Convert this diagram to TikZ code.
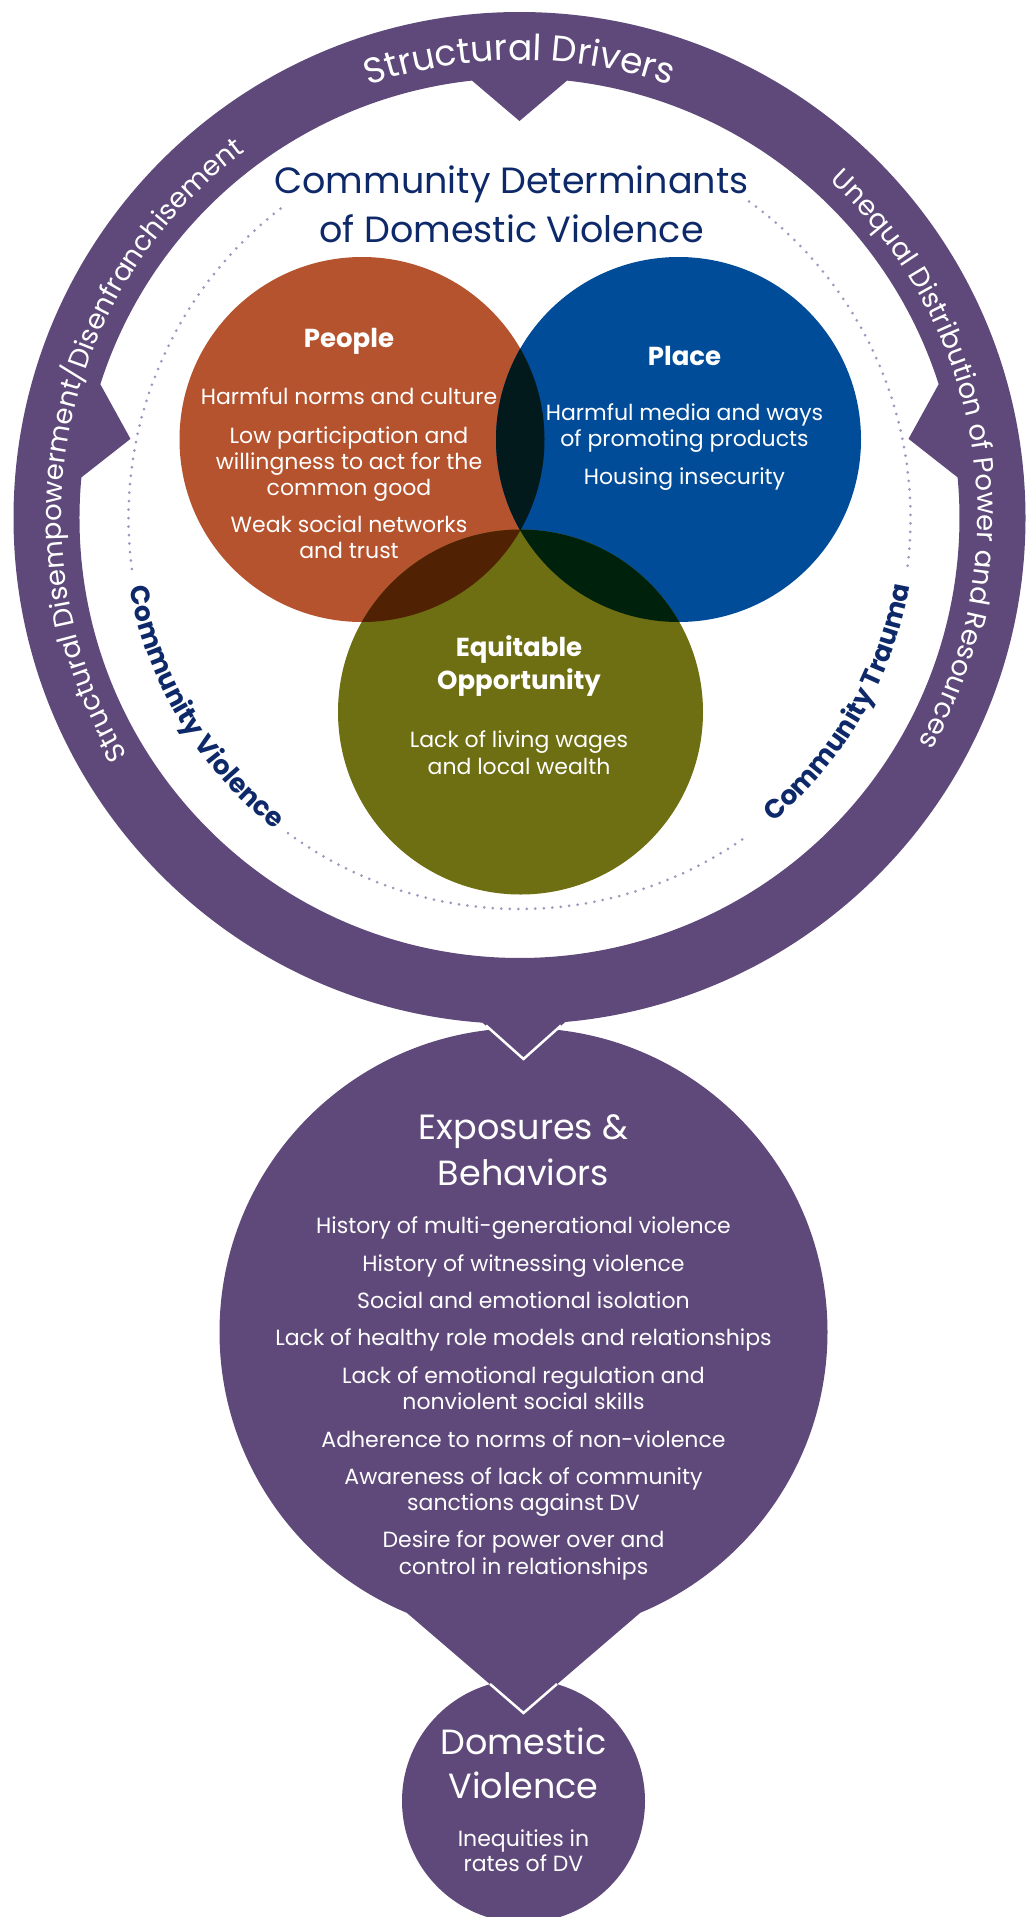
\documentclass[tikz,border=0pt]{standalone}
\usepackage{fontspec}
\setmainfont{Poppins}
\usetikzlibrary{decorations.text}
\definecolor{ringpurple}{RGB}{94,73,122}
\definecolor{cdorange}{RGB}{181,83,46}
\definecolor{cdblue}{RGB}{1,76,152}
\definecolor{cdolive}{RGB}{110,110,18}
\definecolor{ovOB}{RGB}{2,26,28}
\definecolor{ovOG}{RGB}{80,33,3}
\definecolor{ovBG}{RGB}{0,34,12}
\definecolor{ovAll}{RGB}{0,12,6}
\definecolor{cdnavy}{RGB}{14,41,105}
\definecolor{dotpurple}{RGB}{160,150,190}
\newcommand{\fsz}[2]{\fontsize{#1}{#2}\selectfont}
\newcommand{\ringtopfont}{\fsz{36}{40}}
\newcommand{\ringsidefont}{\fsz{27.5}{32}}
\newcommand{\labfont}{\fsz{26.5}{30}\bfseries}
\begin{document}
\begin{tikzpicture}[x=1pt,y=1pt,
  line/.style={text=white, inner sep=0pt, anchor=base, font=\fsz{22}{26}},
  head/.style={text=white, inner sep=0pt, anchor=base, font=\fsz{26}{30}\bfseries},
  big/.style={text=white, inner sep=0pt, anchor=base, font=\fsz{35}{40}},
  title/.style={text=cdnavy, inner sep=0pt, anchor=base, font=\fsz{36.5}{44}},
  dots/.style={dotpurple, line width=3pt, line cap=round, dash pattern=on 0pt off 8.5pt},
  whiteedge/.style={white, line width=2.5pt, line join=miter},
  ringtext/.style={decorate, decoration={text along path, text align=center, text color=white, text={#1}}},
  labtext/.style={decorate, decoration={text along path, text align=center, text color=cdnavy, text={#1}}}
]
\useasboundingbox (0,0) rectangle (1028,-1917);
\clip (0,0) rectangle (1028,-1917);

% centres
\coordinate (RC) at (519.5,-518);
\coordinate (EC) at (523.5,-1332);
\coordinate (DC) at (523.5,-1801);
\coordinate (PC) at (362,-439.5);
\coordinate (QC) at (678.5,-439.5);
\coordinate (GC) at (520.5,-712);
\coordinate (fl) at (407,-1613);
\coordinate (ft) at (523.5,-1713);
\coordinate (fr) at (640,-1613);
\coordinate (fwl) at (490,-1684);
\coordinate (fwr) at (557,-1684);
\coordinate (al) at (475,-1016);
\coordinate (at) at (523.5,-1059);
\coordinate (ar) at (572,-1016);
\coordinate (awl) at (486,-1025.5);
\coordinate (awr) at (561,-1025.5);

% Domestic violence circle
\fill[ringpurple] (DC) circle (121.5);
% Exposures circle with funnel
\fill[ringpurple] (EC) circle (304);
\fill[ringpurple] (fl) -- (ft) -- (fr) -- cycle;
\draw[whiteedge] (fwl) -- (ft) -- (fwr);

% Outer ring with inward notches
\begin{scope}[shift={(RC)}]
\fill[ringpurple, even odd rule] (0,0) circle (506)
  (96.2:440) arc[start angle=96.2, end angle=162.3, radius=440]
  -- (168.5:397) -- (174.7:440)
  arc[start angle=174.7, end angle=365.3, radius=440]
  -- (11.5:397) -- (17.7:440)
  arc[start angle=17.7, end angle=83.8, radius=440]
  -- (90:397) -- cycle;
\end{scope}
% arrow down to exposures
\fill[ringpurple] (al) -- (at) -- (ar) -- cycle;
\draw[whiteedge] (awl) -- (at) -- (awr);

\begin{scope}[shift={(RC)}]
% dotted circle
\draw[dots] (-7:391) arc[start angle=-7, end angle=54.6, radius=391];
\draw[dots] (127.7:391) arc[start angle=127.7, end angle=188.7, radius=391];
\draw[dots] (233.7:391) arc[start angle=233.7, end angle=305, radius=391];
% ring texts
\path[ringtext={|\ringtopfont|Structural Drivers}] (130:458) arc[start angle=130, end angle=50, radius=458];
\path[ringtext={|\ringsidefont|Structural Disempowerment/Disenfranchisement}] (230:458) arc[start angle=230, end angle=108, radius=458];
\path[ringtext={|\ringsidefont|Unequal Distribution of Power and Resources}] (69:458) arc[start angle=69, end angle=-51, radius=458];
% community labels
\path[labtext={|\labfont|Community Violence}] (170:396) arc[start angle=170, end angle=252, radius=396];
\path[labtext={|\labfont|Community Trauma}] (289:396) arc[start angle=289, end angle=371, radius=396];
\end{scope}

% Venn circles
\fill[cdorange] (PC) circle (182.5);
\fill[cdblue] (QC) circle (182.5);
\fill[cdolive] (GC) circle (182.5);
\begin{scope}
\clip (PC) circle (182.5);
\fill[ovOB] (QC) circle (182.5);
\fill[ovOG] (GC) circle (182.5);
\end{scope}
\begin{scope}
\clip (QC) circle (182.5);
\fill[ovBG] (GC) circle (182.5);
\end{scope}
\begin{scope}
\clip (PC) circle (182.5);
\clip (QC) circle (182.5);
\fill[ovAll] (GC) circle (182.5);
\end{scope}

% Title
\node[title] (t1) at (511.5,-193) {Community Determinants};
\node[title] (t2) at (511.5,-242) {of Domestic Violence};

% People
\node[head] (pT) at (349,-347) {People};
\node[line] (p1) at (349,-404) {Harmful norms and culture};
\node[line] (p2) at (349,-443) {Low participation and};
\node[line] (p3) at (349,-469) {willingness to act for the};
\node[line] (p4) at (349,-495) {common good};
\node[line] (p5) at (349,-532) {Weak social networks};
\node[line] (p6) at (349,-558) {and trust};

% Place
\node[head] (qT) at (684.5,-365) {Place};
\node[line] (q1) at (684.5,-420.5) {Harmful media and ways};
\node[line] (q2) at (684.5,-446.5) {of promoting products};
\node[line] (q3) at (684.5,-484) {Housing insecurity};

% Equitable opportunity
\node[head] (gT1) at (519,-656) {Equitable};
\node[head] (gT2) at (519,-689) {Opportunity};
\node[line] (g1) at (519,-747) {Lack of living wages};
\node[line] (g2) at (519,-774) {and local wealth};

% Exposures & Behaviors
\node[big] (eT1) at (523.5,-1139) {Exposures \&};
\node[big] (eT2) at (523.5,-1185) {Behaviors};
\node[line] (e1) at (523.5,-1233.5) {History of multi-generational violence};
\node[line] (e2) at (523.5,-1271) {History of witnessing violence};
\node[line] (e3) at (523.5,-1308) {Social and emotional isolation};
\node[line] (e4) at (523.5,-1345) {Lack of healthy role models and relationships};
\node[line] (e5) at (523.5,-1383) {Lack of emotional regulation and};
\node[line] (e6) at (523.5,-1409) {nonviolent social skills};
\node[line] (e7) at (523.5,-1447) {Adherence to norms of non-violence};
\node[line] (e8) at (523.5,-1484) {Awareness of lack of community};
\node[line] (e9) at (523.5,-1510.5) {sanctions against DV};
\node[line] (e10) at (523.5,-1547) {Desire for power over and};
\node[line] (e11) at (523.5,-1574.5) {control in relationships};

% Domestic Violence
\node[big] (dT1) at (523.5,-1754) {Domestic};
\node[big] (dT2) at (523.5,-1798) {Violence};
\node[line] (d1) at (523.5,-1846.5) {Inequities in};
\node[line] (d2) at (523.5,-1871.5) {rates of DV};
\end{tikzpicture}
\end{document}
